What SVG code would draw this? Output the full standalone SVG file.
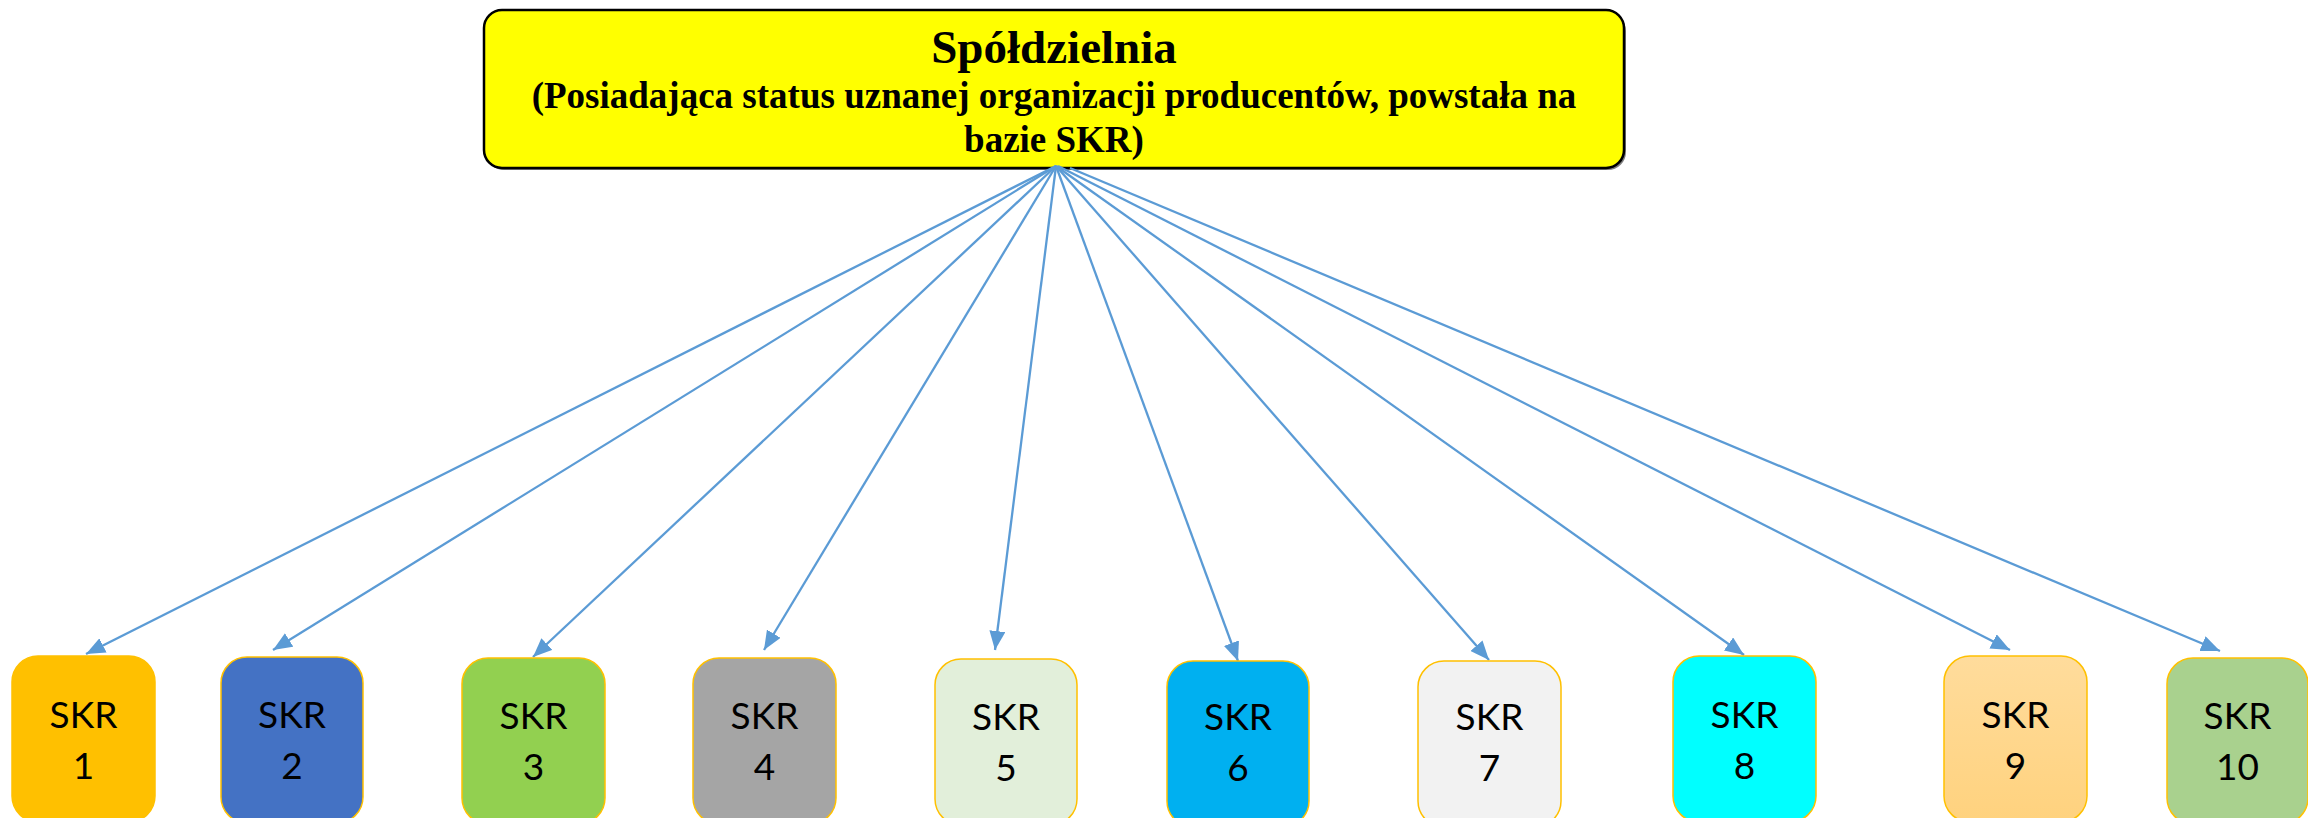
<svg xmlns="http://www.w3.org/2000/svg" width="2308" height="818" viewBox="0 0 2308 818">
<style>
.hdr{font-family:"Liberation Serif","Times New Roman",serif;font-weight:bold;fill:#000;text-anchor:middle}
.skr{fill-opacity:1;stroke:#FFC000;stroke-width:1.5}
.lbl{font-family:Lato,"Open Sans",sans-serif;font-size:37px;fill:#000;text-anchor:middle}
.conn{stroke:#5B9BD5;stroke-width:2.3;fill:none;marker-end:url(#ah)}
</style>
<defs>
<marker id="ah" markerUnits="userSpaceOnUse" markerWidth="20" markerHeight="16" refX="19" refY="8" orient="auto">
<path d="M0,0 L19,8 L0,16 Z" fill="#5B9BD5"/>
</marker>
<linearGradient id="g9" x1="0" y1="0" x2="0" y2="1">
<stop offset="0" stop-color="#FFDC9C"/>
<stop offset="1" stop-color="#FFD27E"/>
</linearGradient>
</defs>
<g id="spoldzielnia">
<rect x="486" y="13" width="1140" height="157" rx="18" fill="#000" opacity="0.5"/>
<rect x="484" y="10" width="1140" height="158" rx="18" fill="#FFFF00" stroke="#000" stroke-width="2.5"/>
<text class="hdr" x="1054" y="63" font-size="47">Spółdzielnia</text>
<text class="hdr" x="1054" y="108" font-size="37">(Posiadająca status uznanej organizacji producentów, powstała na</text>
<text class="hdr" x="1054" y="152" font-size="37">bazie SKR)</text>
</g>
<g id="connectors">
<line class="conn" x1="1056" y1="166" x2="86" y2="654"/>
<line class="conn" x1="1056" y1="166" x2="273" y2="650"/>
<line class="conn" x1="1056" y1="166" x2="533" y2="657"/>
<line class="conn" x1="1056" y1="166" x2="764" y2="650"/>
<line class="conn" x1="1056" y1="166" x2="995" y2="650"/>
<line class="conn" x1="1056" y1="166" x2="1238" y2="661"/>
<line class="conn" x1="1056" y1="166" x2="1489" y2="660"/>
<line class="conn" x1="1056" y1="166" x2="1744" y2="655"/>
<line class="conn" x1="1058" y1="166" x2="2010" y2="650"/>
<line class="conn" x1="1070" y1="168" x2="2220" y2="651"/>
</g>
<g id="skr1"><rect class="skr" x="12" y="656" width="143" height="166" rx="26" fill="#FFC000"/><text class="lbl" x="83.5" y="728">SKR</text><text class="lbl" x="83.5" y="779">1</text></g>
<g id="skr2"><rect class="skr" x="221" y="657" width="142" height="166" rx="26" fill="#4472C4"/><text class="lbl" x="292" y="728">SKR</text><text class="lbl" x="292" y="779">2</text></g>
<g id="skr3"><rect class="skr" x="462" y="658" width="143" height="166" rx="26" fill="#92D050"/><text class="lbl" x="533.5" y="729">SKR</text><text class="lbl" x="533.5" y="780">3</text></g>
<g id="skr4"><rect class="skr" x="693" y="658" width="143" height="166" rx="26" fill="#A5A5A5"/><text class="lbl" x="764.5" y="729">SKR</text><text class="lbl" x="764.5" y="780">4</text></g>
<g id="skr5"><rect class="skr" x="935" y="659" width="142" height="166" rx="26" fill="#E2EFDA"/><text class="lbl" x="1006" y="730">SKR</text><text class="lbl" x="1006" y="781">5</text></g>
<g id="skr6"><rect class="skr" x="1167" y="661" width="142" height="166" rx="26" fill="#00B0F0"/><text class="lbl" x="1238" y="730">SKR</text><text class="lbl" x="1238" y="781">6</text></g>
<g id="skr7"><rect class="skr" x="1418" y="661" width="143" height="166" rx="26" fill="#F2F2F2"/><text class="lbl" x="1489.5" y="730">SKR</text><text class="lbl" x="1489.5" y="781">7</text></g>
<g id="skr8"><rect class="skr" x="1673" y="656" width="143" height="166" rx="26" fill="#00FFFF"/><text class="lbl" x="1744.5" y="728">SKR</text><text class="lbl" x="1744.5" y="779">8</text></g>
<g id="skr9"><rect class="skr" x="1944" y="656" width="143" height="166" rx="26" fill="url(#g9)"/><text class="lbl" x="2015.5" y="728">SKR</text><text class="lbl" x="2015.5" y="779">9</text></g>
<g id="skr10"><rect class="skr" x="2167" y="658" width="141" height="166" rx="26" fill="#A9D18E"/><text class="lbl" x="2237.5" y="729">SKR</text><text class="lbl" x="2237.5" y="780">10</text></g>
</svg>
